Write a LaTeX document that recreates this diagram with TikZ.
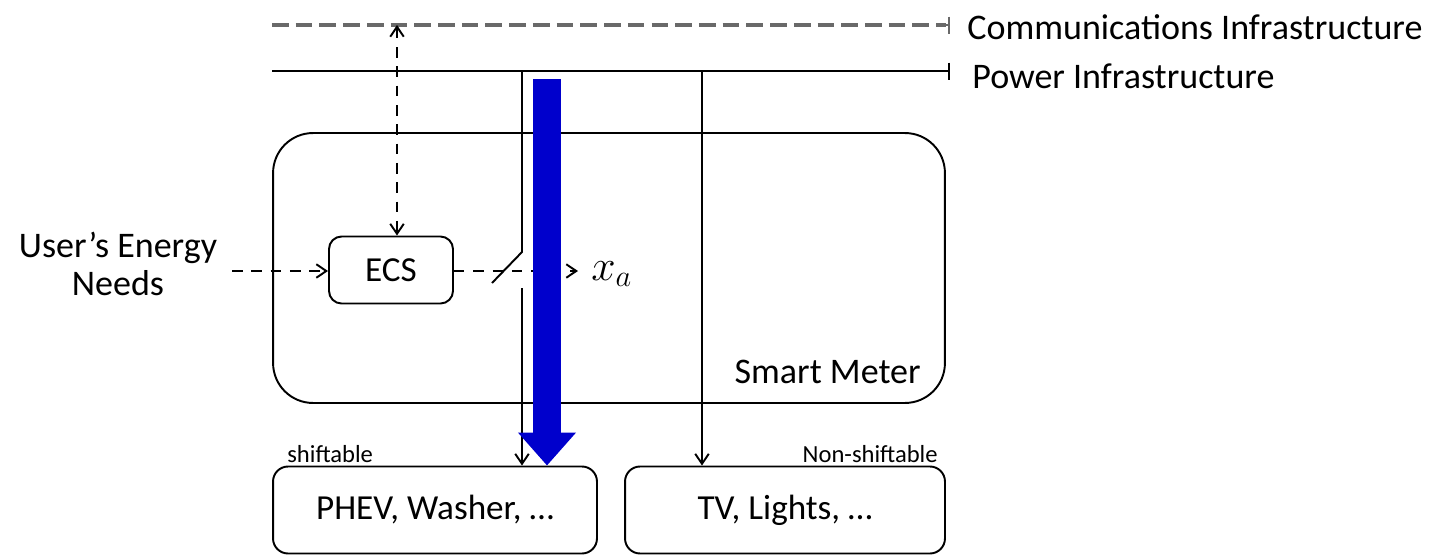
\documentclass[tikz,border=0pt]{standalone}
\usepackage{fontspec}
\setmainfont{Carlito}
\usetikzlibrary{arrows.meta,calc,positioning}
\definecolor{smblue}{RGB}{0,0,204}
\definecolor{smgray}{RGB}{105,105,105}

\begin{document}
\begin{tikzpicture}[x=0.02cm, y=-0.02cm,
      box/.style={rectangle, rounded corners=6pt, draw=black, line width=1.1pt, inner sep=0pt, align=center, font=\fontsize{20}{24}\selectfont},
      lbl/.style={inner sep=0pt, align=center, font=\fontsize{20.5}{22}\selectfont},
      tag/.style={inner sep=0pt, font=\fontsize{14}{16}\selectfont},
      tip/.style={-{Straight Barb[length=2mm, width=2.7mm]}},
      wire/.style={line width=1.1pt, color=black},
      sig/.style={line width=1.1pt, color=black, dash pattern=on 6pt off 5pt},
      comm/.style={line width=2.2pt, color=smgray, dash pattern=on 9.5pt off 4pt},
      ends/.style={-{Bar[width=3.4mm, line width=1.1pt]}},
      bigarr/.style={line width=0.56cm, color=smblue, -{Triangle[length=0.66cm, width=1.12cm]}}
    ]
      \useasboundingbox (0,0) rectangle (1448,555);

      % Top: infrastructure lines
      \coordinate (c0) at (272,25);
      \coordinate (c1) at (950,25);
      \coordinate (p0) at (272,71);
      \coordinate (p1) at (950,71);
      \draw[comm] (c0) -- ($(c1)+(-4,0)$);
      \draw[wire, color=smgray, ends] ($(c1)+(-4,0)$) -- (c1);
      \draw[wire, ends] (p0) -- (p1);
      \node[lbl, anchor=west] (commlbl) at (967,27) {Communications Infrastructure};
      \node[lbl, anchor=west] (powlbl) at (972,76) {Power Infrastructure};

      % Center: smart meter and ECS
      \node[box, rounded corners=0.8cm, minimum width=13.44cm, minimum height=5.4cm] (meter) at (609,268) {};
      \node[lbl, anchor=east] (meterlbl) at (921,372) {Smart Meter};
      \node[box, rounded corners=0.25cm, minimum width=2.48cm, minimum height=1.34cm] (ecs) at (391,270) {ECS};
      \node[lbl] (user) at (118,264) {User’s Energy\\Needs};
      \node[lbl, anchor=west, font=\fontsize{26}{28}\selectfont] (xa) at (591,274) {$x_a$};

      % Bottom: appliances
      \node[box, rounded corners=0.3cm, minimum width=6.48cm, minimum height=1.74cm] (phev) at (435,510) {PHEV, Washer, …};
      \node[box, rounded corners=0.3cm, minimum width=6.4cm, minimum height=1.74cm] (tv) at (785,510) {TV, Lights, …};
      \node[tag, anchor=base west] (shift) at (287,462) {shiftable};
      \node[tag, anchor=base east] (noshift) at (938,462) {Non-shiftable};

      % Paths
      \coordinate (cu) at (397,25);
      \coordinate (ui) at (232,271);
      \coordinate (xo) at (578,271);
      \coordinate (sw) at (522,71);
      \coordinate (tvp) at (702,71);
      \coordinate (b0) at (547,79);
      \draw[sig, {Straight Barb[length=2mm, width=2.7mm]}-{Straight Barb[length=2mm, width=2.7mm]}] (cu) -- (cu |- ecs.north);
      \draw[sig, tip] (ui) -- (ui -| ecs.west);
      \draw[sig, tip] (ecs.east |- ui) -- (xo);
      \draw[wire] (sw) -- ($(sw)+(0,181)$) -- ($(sw)+(-30,212)$);
      \draw[wire, tip] ($(sw)+(0,217)$) -- (sw |- phev.north);
      \draw[wire, tip] (tvp) -- (tvp |- tv.north);
      \draw[bigarr] (b0) -- (b0 |- phev.north);
    \end{tikzpicture}
\end{document}
